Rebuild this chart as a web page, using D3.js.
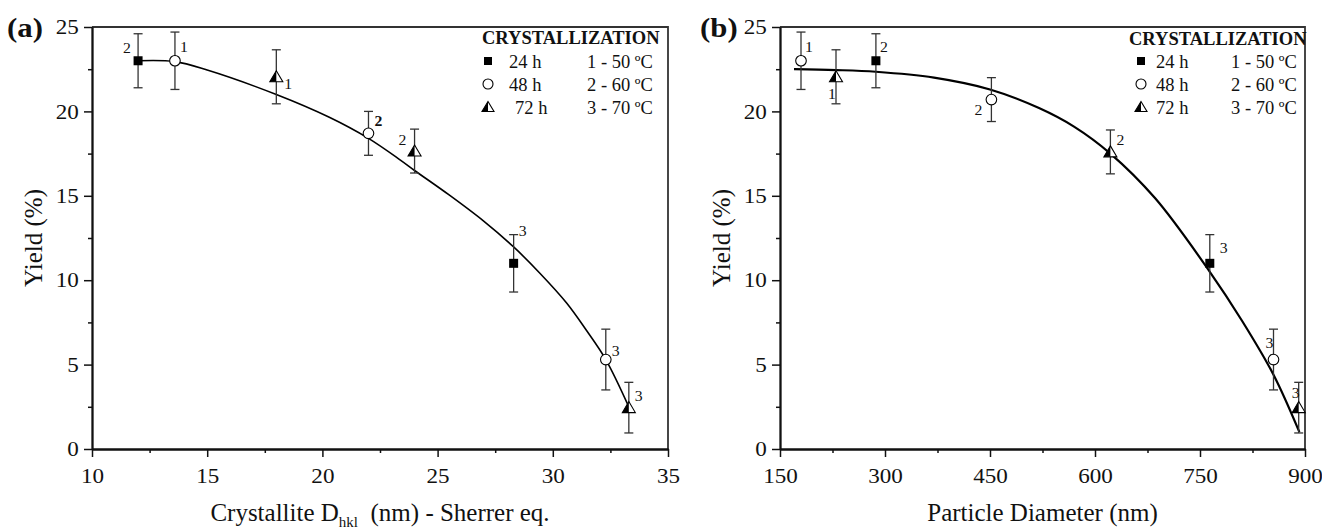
<!DOCTYPE html>
<html><head><meta charset="utf-8">
<script src="https://cdn.jsdelivr.net/npm/d3@7"></script>
<style>
body{margin:0;background:#fff}
svg{display:block}
text{font-family:"Liberation Serif","Times New Roman",Times,serif;fill:#111}
</style></head><body>
<svg id="chart" width="1322" height="530"></svg>
<script>
// ---------------- DATA ----------------
const yTicks = [0, 5, 10, 15, 20, 25];
const yMinor = [2.5, 7.5, 12.5, 17.5, 22.5];
const aXTicks = [10, 15, 20, 25, 30, 35];
const aXMinor = [12.5, 17.5, 22.5, 27.5, 32.5];
const bXTicks = [150, 300, 450, 600, 750, 900];
const bXMinor = [225, 375, 525, 675, 825];

// panel (a): crystallite size vs yield
const aSquare   = [{x:12.0, y:23.0, err:1.6, label:"2"}, {x:28.3, y:11.0, err:1.7, label:"3"}];
const aCircle   = [{x:13.6, y:23.0, err:1.7, label:"1"}, {x:22.0, y:18.7, err:1.3, label:"2"}, {x:32.3, y:5.3, err:1.8, label:"3"}];
const aTriangle = [{x:18.0, y:22.05, err:1.6, label:"1"}, {x:24.0, y:17.65, err:1.3, label:"2"}, {x:33.3, y:2.45, err:1.5, label:"3"}];
const aFitX = [12, 13.6, 15, 18, 20.3, 22, 23.4, 24, 25.5, 27, 28.3, 29.45, 30.6, 31.45, 32.3, 33.3];
const aFitY = [23.0, 22.95, 22.45, 21.0, 19.65, 18.4, 17.1, 16.5, 15.05, 13.5, 11.97, 10.4, 8.65, 7.05, 5.3, 2.5];

// panel (b): particle diameter vs yield
const bSquare   = [{x:287, y:23.0, err:1.6, label:"2"}, {x:764, y:11.0, err:1.7, label:"3"}];
const bCircle   = [{x:180, y:23.0, err:1.7, label:"1"}, {x:452, y:20.7, err:1.3, label:"2"}, {x:855, y:5.3, err:1.8, label:"3"}];
const bTriangle = [{x:230, y:22.05, err:1.6, label:"1"}, {x:622, y:17.6, err:1.3, label:"2"}, {x:891, y:2.45, err:1.5, label:"3"}];
const bFitX = [170, 230, 287, 370, 450, 520, 570, 622, 686, 764, 810, 855, 892];
const bFitY = [22.5, 22.45, 22.35, 22.0, 21.3, 20.2, 19.1, 17.5, 14.85, 10.5, 7.6, 4.4, 1.0];

const legendTitle = "CRYSTALLIZATION";
const legendTimes = ["24 h", "48 h", "72 h"];
const legendTemps = ["1 - 50 ºC", "2 - 60 ºC", "3 - 70 ºC"];

// ---------------- DRAWING ----------------
const svg = d3.select("#chart");
const TOP = 27, BOTTOM = 449;

function triangle(g, cx, cy, w, h){
  const a = [cx, cy - h*0.55], bl = [cx - w/2, cy + h*0.45], br = [cx + w/2, cy + h*0.45], bm = [cx, cy + h*0.45];
  g.append("path").attr("d", `M${a}L${br}L${bl}Z`).attr("fill","#fff").attr("stroke","none");
  g.append("path").attr("d", `M${a}L${bm}L${bl}Z`).attr("fill","#000");
  g.append("path").attr("d", `M${a}L${br}L${bl}Z`).attr("fill","none").attr("stroke","#000").attr("stroke-width",1.1);
}
function square(g, cx, cy, s){
  g.append("rect").attr("x", cx - s/2).attr("y", cy - s/2).attr("width", s).attr("height", s).attr("fill","#000");
}
function circle(g, cx, cy, r){
  g.append("circle").attr("cx", cx).attr("cy", cy).attr("r", r).attr("fill","#fff").attr("stroke","#000").attr("stroke-width",1.1);
}

function drawPanel(o){
  const g = svg.append("g");
  const x = d3.scaleLinear().domain(o.xDomain).range([o.left, o.right]);
  const y = d3.scaleLinear().domain([0, 25]).range([BOTTOM, TOP]);

  g.append("path").attr("d", `M${o.left},${y(25)}H${o.right}V${y(0)}`)
    .attr("fill","none").attr("stroke","#333").attr("stroke-width",1.8);

  const styleAxis = sel => {
    sel.select(".domain").attr("stroke","#111").attr("stroke-width",1.8);
    sel.selectAll(".tick line").attr("stroke","#111").attr("stroke-width",1.5);
    sel.selectAll(".tick text").attr("font-size",21).attr("fill","#111")
       .attr("font-family",'"Liberation Serif","Times New Roman",serif')
       .attr("transform","scale(1.1,1)");
  };
  g.append("g").attr("transform",`translate(0,${BOTTOM})`)
    .call(d3.axisBottom(x).tickValues(o.xMinor).tickSize(4).tickSizeOuter(0).tickFormat(""))
    .call(styleAxis);
  g.append("g").attr("transform",`translate(0,${BOTTOM})`)
    .call(d3.axisBottom(x).tickValues(o.xTicks).tickSize(8).tickSizeOuter(0).tickPadding(11).tickFormat(d3.format("d")))
    .call(styleAxis);
  g.append("g").attr("transform",`translate(${o.left},0)`)
    .call(d3.axisLeft(y).tickValues(yMinor).tickSize(4).tickSizeOuter(0).tickFormat(""))
    .call(styleAxis);
  g.append("g").attr("transform",`translate(${o.left},0)`)
    .call(d3.axisLeft(y).tickValues(yTicks).tickSize(8).tickSizeOuter(0).tickPadding(4).tickFormat(d3.format("d")))
    .call(styleAxis);

  const fit = o.fitX.map((v,i)=>[v, o.fitY[i]]);
  g.append("path").datum(fit)
    .attr("d", d3.line().x(d=>x(d[0])).y(d=>y(d[1])).curve(d3.curveCatmullRom.alpha(0.5)))
    .attr("fill","none").attr("stroke","#000").attr("stroke-width",o.curveW);

  const series = [
    {data:o.sq, kind:"sq", off:o.offSq},
    {data:o.ci, kind:"ci", off:o.offCi},
    {data:o.tr, kind:"tr", off:o.offTr}
  ];
  series.forEach(s=>{
    s.data.forEach(d=>{
      const cx = x(d.x), y1 = y(d.y + d.err), y2 = y(d.y - d.err);
      const eb = g.append("g").attr("stroke","#333").attr("stroke-width",1.3);
      eb.append("line").attr("x1",cx).attr("x2",cx).attr("y1",y1).attr("y2",y2);
      eb.append("line").attr("x1",cx-4.5).attr("x2",cx+4.5).attr("y1",y1).attr("y2",y1);
      eb.append("line").attr("x1",cx-4.5).attr("x2",cx+4.5).attr("y1",y2).attr("y2",y2);
    });
  });
  series.forEach(s=>{
    s.data.forEach((d,i)=>{
      const cx = x(d.x), cy = y(d.y);
      if (s.kind==="sq") square(g, cx, cy, 9);
      else if (s.kind==="ci") circle(g, cx, cy, 5.3);
      else triangle(g, cx, cy, 13, 11);
      const off = s.off[i];
      g.append("text").attr("transform",`translate(${cx+off[0]},${cy+off[1]}) scale(1.05,1)`)
        .attr("font-size",15).attr("font-weight", off[2] ? "bold" : "normal").text(d.label);
    });
  });

  const L = o.legend;
  g.append("text").attr("transform",`translate(${L.hx},${L.hy})`)
    .attr("font-size",18.5).attr("font-weight","bold").text(legendTitle);
  legendTimes.forEach((t,i)=>{
    const ry = L.ry[i];
    if (i===0) square(g, L.mx, ry, 8);
    else if (i===1) circle(g, L.mx, ry, 5);
    else triangle(g, L.mx, ry, 12, 10);
    g.append("text").attr("transform",`translate(${L.tx[i]},${ry+7})`).attr("font-size",18.5).text(t);
    g.append("text").attr("transform",`translate(${L.cx},${ry+7})`).attr("font-size",18.5).text(legendTemps[i]);
  });

  g.append("text").attr("transform",`translate(${o.tagX},37) scale(1.1,1)`)
    .attr("font-size",28).attr("font-weight","bold").text(o.tag);

  g.append("text").attr("transform",`translate(${o.left-50},${(TOP+BOTTOM)/2}) rotate(-90)`)
    .attr("text-anchor","middle").attr("font-size",25).text("Yield (%)");

  const xt = g.append("text").attr("transform",`translate(${(o.left+o.right)/2},521)`)
    .attr("text-anchor","middle").attr("font-size",25);
  o.xTitle(xt);
}

drawPanel({
  tag:"(a)", tagX:7,
  left:92, right:668, xDomain:[10,35], xTicks:aXTicks, xMinor:aXMinor,
  fitX:aFitX, fitY:aFitY, curveW:1.6,
  sq:aSquare, ci:aCircle, tr:aTriangle,
  offSq:[[-15,-8],[5,-27]],
  offCi:[[5,-9],[6,-7,true],[6,-4]],
  offTr:[[8,12],[-16,-6],[6,-7]],
  legend:{hx:482, hy:44, mx:488, ry:[61,84,107], tx:[509,509,515], cx:587},
  xTitle: t => {
    t.append("tspan").text("Crystallite D");
    t.append("tspan").attr("font-size",15).attr("dy",6).text("hkl");
    t.append("tspan").attr("dy",-6).text("\u00a0 (nm) - Sherrer eq.");
  }
});
drawPanel({
  tag:"(b)", tagX:700,
  left:780, right:1305, xDomain:[150,900], xTicks:bXTicks, xMinor:bXMinor,
  fitX:bFitX, fitY:bFitY, curveW:2.2,
  sq:bSquare, ci:bCircle, tr:bTriangle,
  offSq:[[4,-9],[10,-10]],
  offCi:[[4,-9],[-17,15],[-8,-12]],
  offTr:[[-8,22],[6,-7],[-7,-10]],
  legend:{hx:1129, hy:45, mx:1141, ry:[61,84,107], tx:[1156,1156,1156], cx:1231},
  xTitle: t => t.text("Particle Diameter (nm)")
});
</script>
</body></html>
